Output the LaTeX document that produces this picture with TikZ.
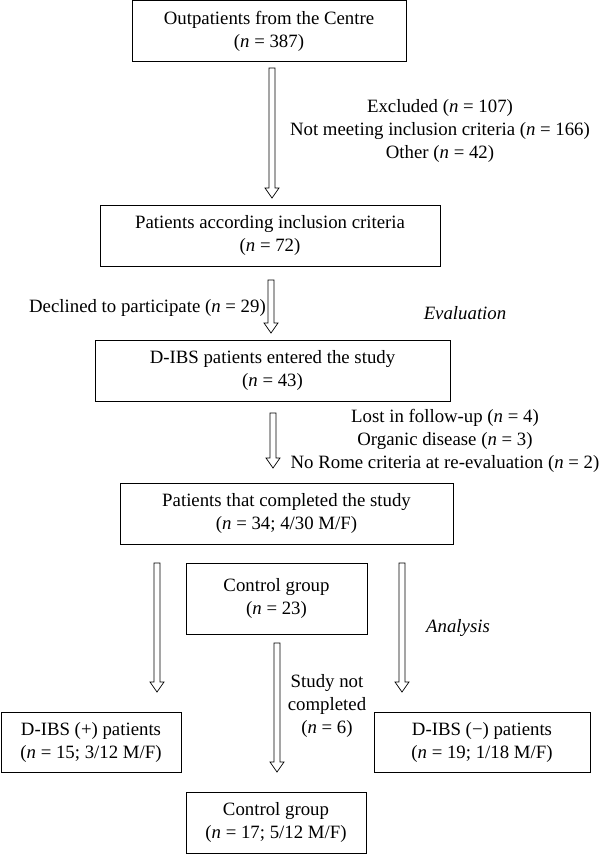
\documentclass[tikz,border=0pt]{standalone}
\usepackage{fontspec}
\setmainfont{Liberation Serif}
\usetikzlibrary{calc}
\newcommand{\nn}{\textit{n}}
\begin{document}
\begin{tikzpicture}[x=1pt,y=1pt,
  font=\fontsize{18.8}{23}\selectfont,
  box/.style={draw, line width=0.8pt, align=center, inner sep=0pt, minimum height=61pt},
  lbl/.style={align=center, inner sep=0pt},
  hollow/.style={line width=0.7pt, to path={
    ($(\tikztostart)+(-3,0)$) -- ($(\tikztotarget)+(-3,10)$) -- ($(\tikztotarget)+(-7,10)$) --
    (\tikztotarget) -- ($(\tikztotarget)+(7,10)$) -- ($(\tikztotarget)+(3,10)$) --
    ($(\tikztostart)+(3,0)$) -- cycle}}]
\useasboundingbox (0,0) rectangle (600,-854);
% boxes
\node[box, minimum width=274pt] (b1) at (269,-31) {Outpatients from the Centre\\(\nn{} = 387)};
\node[box, minimum width=340pt] (b2) at (270,-235.5) {Patients according inclusion criteria\\(\nn{} = 72)};
\node[box, minimum width=355pt] (b3) at (272.5,-370.5) {D-IBS patients entered the study\\(\nn{} = 43)};
\node[box, minimum width=333pt] (b4) at (286.5,-513.5) {Patients that completed the study\\(\nn{} = 34; 4/30 M/F)};
\node[box, minimum width=181pt, minimum height=71pt] (c1) at (276.5,-598.5) {Control group\\(\nn{} = 23)};
\node[box, minimum width=180pt, minimum height=60pt] (plus) at (91,-742) {D-IBS (+) patients\\(\nn{} = 15; 3/12 M/F)};
\node[box, minimum width=216pt, minimum height=60pt] (minus) at (482,-742) {D-IBS (−) patients\\(\nn{} = 19; 1/18 M/F)};
\node[box, minimum width=180pt, minimum height=61pt] (c2) at (276,-822.5) {Control group\\(\nn{} = 17; 5/12 M/F)};
% labels
\node[lbl] (excl) at (440,-131) {Excluded (\nn{} = 107)\\Not meeting inclusion criteria (\nn{} = 166)\\Other (\nn{} = 42)};
\node[lbl, anchor=east] (decl) at (266,-308) {Declined to participate (\nn{} = 29)};
\node[lbl] (eval) at (465,-313) {\textit{Evaluation}};
\node[lbl] (lost) at (445,-441) {Lost in follow-up (\nn{} = 4)\\Organic disease (\nn{} = 3)\\No Rome criteria at re-evaluation (\nn{} = 2)};
\node[lbl] (anal) at (458,-628) {\textit{Analysis}};
\node[lbl] (stud) at (327,-706) {Study not\\completed\\(\nn{} = 6)};
% arrow endpoints
\coordinate (a1s) at (272,-68);  \coordinate (a1e) at (272,-198);
\coordinate (a2s) at (271,-280); \coordinate (a2e) at (271,-333);
\coordinate (a3s) at (273,-413); \coordinate (a3e) at (273,-468);
\coordinate (aLs) at (157,-563); \coordinate (aLe) at (157,-692);
\coordinate (aRs) at (402,-563); \coordinate (aRe) at (402,-692);
\coordinate (aMs) at (277,-643); \coordinate (aMe) at (277,-772);
\draw[hollow] (a1s) to (a1e);
\draw[hollow] (a2s) to (a2e);
\draw[hollow] (a3s) to (a3e);
\draw[hollow] (aLs) to (aLe);
\draw[hollow] (aRs) to (aRe);
\draw[hollow] (aMs) to (aMe);
\end{tikzpicture}
\end{document}
